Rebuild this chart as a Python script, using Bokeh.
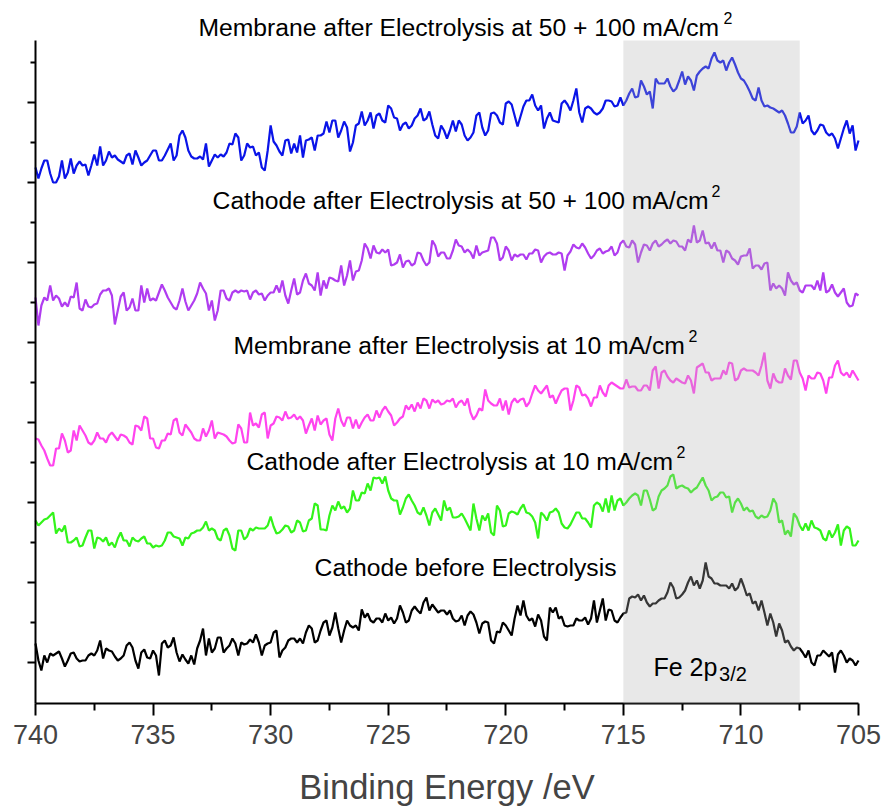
from bokeh.plotting import figure
from bokeh.models import Range1d, FixedTicker, BoxAnnotation, Label, CustomJSTickFormatter
from bokeh.embed import file_html
from bokeh.resources import INLINE
import numpy as np

# Binding energy grid (eV): 0.125 eV steps from 740 to 705.
# Each spectrum is read at the 0.25 eV points (*_a) and at the points in between (*_b).
energy = np.arange(740.0, 704.99, -0.125)

membrane_50_100_a = [633,632,640,618,624,622,642,635,635,625,646,654,640,643,641,637,647,650,635,640,
                     650,640,645,657,645,670,650,642,644,657,640,643,644,657,667,640,657,654,648,630,
                     675,655,645,661,657,665,660,663,665,667,668,680,670,673,658,677,675,688,685,680,
                     695,683,670,678,675,685,680,689,665,675,662,680,680,665,663,685,673,670,688,678,
                     697,696,674,694,700,695,695,682,680,678,700,690,712,678,694,688,688,700,699,695,
                     695,707,703,720,706,692,717,717,714,712,729,724,710,729,734,742,740,740,738,736,
                     722,715,702,713,694,693,690,690,677,668,688,680,670,670,675,665,662,662,680,675,660]
membrane_50_100_b = [622,640,627,618,640,628,627,639,636,635,635,635,649,645,639,645,636,643,638,645,
                     650,640,651,640,665,663,644,642,641,634,646,646,648,656,663,645,653,645,633,650,
                     659,649,660,647,648,643,661,650,665,679,680,663,679,649,675,689,680,672,687,678,
                     692,682,676,672,682,692,682,676,662,670,670,669,676,660,668,688,665,687,685,676,
                     699,685,684,700,706,690,672,688,679,697,696,700,688,692,692,686,692,700,694,703,
                     700,712,704,714,709,722,717,722,709,720,716,720,725,732,732,748,738,730,743,728,
                     720,709,700,700,695,692,688,685,668,674,677,685,666,676,668,667,652,672,667,650]

cathode_50_100_a = [503,495,500,500,502,498,504,518,490,494,496,506,510,505,490,508,493,490,515,512,
                    502,508,510,498,491,512,490,500,518,507,500,490,510,500,510,510,510,508,506,500,
                    508,515,520,497,522,508,527,515,528,520,523,520,535,525,520,530,557,542,548,551,
                    551,536,546,539,535,548,540,538,555,548,542,550,555,548,548,555,548,550,563,540,
                    554,540,544,546,547,551,538,547,546,548,530,549,553,557,547,545,552,549,554,548,
                    560,553,556,548,555,557,554,559,557,559,554,561,575,560,557,552,550,538,548,540,
                    544,545,532,535,537,510,512,512,528,516,510,515,515,520,528,510,508,508,498,495,505]
cathode_50_100_b = [475,503,515,505,494,494,503,492,501,493,497,510,512,476,504,490,502,490,498,500,
                    500,516,503,493,500,499,495,507,512,490,480,510,502,508,508,509,501,510,507,505,
                    508,508,505,510,506,520,517,510,505,512,522,519,515,540,529,540,552,555,547,548,
                    535,538,533,540,537,547,535,560,544,548,542,561,554,551,542,545,549,563,557,543,
                    550,546,546,541,547,550,544,548,546,547,545,556,552,553,542,550,547,550,545,557,
                    554,560,538,556,550,560,556,561,560,554,550,558,558,570,558,558,550,550,542,536,
                    545,552,535,531,538,517,515,505,520,518,508,515,511,510,508,516,504,512,494,507]

membrane_10_a = [362,355,342,335,352,360,350,360,370,358,360,362,358,368,360,365,358,375,370,382,
                 362,352,360,366,382,365,372,362,360,364,380,368,366,360,358,372,358,375,373,388,
                 375,384,380,382,386,384,367,382,385,380,366,382,380,383,372,372,383,380,390,390,
                 389,375,382,395,396,398,402,392,398,396,400,402,398,395,388,385,390,400,395,402,
                 400,398,398,402,398,415,407,415,405,404,412,390,415,405,402,403,415,404,418,414,
                 412,413,414,410,415,430,412,430,420,422,418,425,407,435,428,420,422,430,438,420,
                 430,430,430,425,448,412,420,418,425,440,428,410,422,428,420,423,435,428,428,430,420]
membrane_10_b = [361,350,335,352,367,348,370,375,365,356,368,362,365,364,366,363,356,374,384,362,
                 353,360,367,380,368,376,368,360,372,370,362,367,364,357,376,358,388,377,386,362,
                 377,383,389,383,381,380,375,370,376,382,360,392,374,383,381,378,386,380,383,394,
                 385,378,384,391,389,392,400,401,400,397,399,393,400,402,381,392,411,397,395,390,
                 386,402,401,394,407,410,411,403,397,410,412,400,413,406,394,403,408,415,416,412,
                 421,414,410,415,410,434,428,424,418,420,417,420,433,437,428,422,422,426,437,422,
                 432,430,428,435,420,427,418,432,421,440,422,425,422,427,407,423,440,425,423,425]

cathode_10_a = [280,278,282,288,272,275,258,263,255,270,252,262,263,258,262,260,254,260,262,257,
                253,254,260,268,263,255,262,268,270,279,272,262,270,265,250,270,264,270,272,272,
                284,267,271,274,270,278,270,282,295,271,285,290,292,288,310,300,307,310,322,317,
                310,300,286,302,300,288,293,275,292,280,290,283,284,282,270,282,285,287,265,290,
                275,289,286,296,287,278,288,280,289,288,273,276,288,282,278,295,296,302,305,300,
                295,302,307,295,310,290,304,312,324,312,315,312,311,318,315,300,304,308,304,298,
                297,293,290,282,283,290,297,280,270,287,275,277,280,272,262,270,268,255,274,255,260]
cathode_10_b = [275,281,285,267,269,258,260,254,263,270,263,259,255,253,268,260,263,259,264,257,
                255,255,268,264,262,263,267,270,273,270,270,260,272,252,270,261,272,273,272,275,
                274,268,275,268,280,269,280,297,271,270,295,299,294,292,300,308,317,323,323,324,
                302,300,293,306,295,286,285,288,286,300,293,283,287,276,297,270,280,268,295,274,
                287,288,292,288,284,262,285,288,292,277,272,282,288,282,273,298,289,288,290,302,
                298,305,305,310,301,292,310,315,326,314,313,308,313,323,310,303,308,303,288,302,
                290,289,284,285,284,302,278,266,264,283,270,270,273,270,260,263,276,270,272,255]

cathode_before_a = [157,130,138,145,149,134,147,142,140,145,145,160,152,149,140,145,158,140,148,143,
                    150,125,160,155,148,146,137,136,160,145,148,163,148,155,157,158,157,158,158,155,
                    158,170,150,160,162,162,168,172,160,178,165,188,158,180,173,170,183,180,182,178,
                    180,177,195,178,190,190,198,190,192,190,186,182,180,175,189,178,177,178,157,168,
                    175,165,195,200,180,174,180,160,188,182,175,175,182,180,176,200,190,180,190,178,
                    187,202,203,200,198,197,200,202,218,202,206,218,215,212,238,222,217,215,212,210,
                    222,205,197,190,188,187,164,170,160,150,152,143,138,145,150,144,128,150,138,140,140]
cathode_before_b = [140,145,147,147,142,140,148,139,140,147,150,142,150,144,142,155,153,132,151,142,
                    145,157,153,163,139,141,145,152,172,162,152,163,152,162,145,156,161,166,145,157,
                    168,143,153,162,158,157,175,158,170,180,173,172,170,175,175,191,187,178,182,187,
                    183,182,188,180,194,187,203,196,188,190,190,179,185,185,186,167,179,160,169,178,
                    170,182,185,185,182,186,164,193,193,184,174,175,180,183,182,178,202,191,180,183,
                    188,204,206,205,194,197,202,208,213,203,210,224,220,220,224,217,215,215,217,213,
                    214,207,199,200,175,178,177,158,154,153,148,150,135,145,147,148,146,145,142,135]

series_a = [membrane_50_100_a, cathode_50_100_a, membrane_10_a, cathode_10_a, cathode_before_a]
series_b = [membrane_50_100_b, cathode_50_100_b, membrane_10_b, cathode_10_b, cathode_before_b]
colors = ["#0a14e8", "#b03cf0", "#ff44ee", "#33f41a", "#000000"]

# Curve annotations: text, left edge (eV), vertical position, superscript "2" position (eV) or None
labels = ["Membrane after Electrolysis at 50 + 100 mA/cm",
          "Cathode after Electrolysis at 50 + 100 mA/cm",
          "Membrane after Electrolysis at 10 mA/cm",
          "Cathode after Electrolysis at 10 mA/cm",
          "Cathode before Electrolysis"]
label_left = [733.07, 732.47, 731.58, 731.03, 728.13]
label_y = [773, 600, 455, 339, 233]
sup_x = [710.74, 711.25, 712.23, 712.74, None]

x_ticks = [740, 735, 730, 725, 720, 715, 710, 705]
x_minor = [737.5, 732.5, 727.5, 722.5, 717.5, 712.5, 707.5]
y_ticks = [138, 218, 298, 378, 458, 538, 618, 698]
y_minor = [178, 258, 338, 418, 498, 578, 658, 738]
x_bounds = (705, 740)
y_bounds = (97, 760)
region = (715, 707.5)

p = figure(width=883, height=807, output_backend="svg", toolbar_location=None,
           x_range=Range1d(741.488, 703.937), y_range=Range1d(-7, 800),
           min_border=0)
p.outline_line_color = None
p.xgrid.visible = False
p.ygrid.visible = False
p.background_fill_color = "white"
p.border_fill_color = "white"

for a, b, c in zip(series_a, series_b, colors):
    ys = np.empty(len(energy))
    ys[0::2] = a
    ys[1::2] = b
    p.line(energy, ys, line_color=c, line_width=2.2)

p.add_layout(BoxAnnotation(left=region[0], right=region[1], bottom=y_bounds[0], top=y_bounds[1],
                           fill_color=(178, 178, 178), fill_alpha=0.3, line_color=None))

for t, xl, y, xs in zip(labels, label_left, label_y, sup_x):
    p.add_layout(Label(x=xl, y=y, text=t, text_align="left", text_baseline="middle",
                       text_font="Liberation Sans", text_font_size="24.7px", text_color="black"))
    if xs is not None:
        p.add_layout(Label(x=xs, y=y + 10, text="2", text_align="left", text_baseline="middle",
                           text_font="Liberation Sans", text_font_size="16px", text_color="black"))

p.add_layout(Label(x=711.0, y=134, text="Fe 2p", text_align="right", text_baseline="alphabetic",
                   text_font="Liberation Sans", text_font_size="25px", text_color="black"))
p.add_layout(Label(x=710.93, y=127, text="3/2", text_align="left", text_baseline="alphabetic",
                   text_font="Liberation Sans", text_font_size="20px", text_color="black"))

xa = p.xaxis[0]
xa.fixed_location = y_bounds[0]
xa.bounds = x_bounds
xa.ticker = FixedTicker(ticks=x_ticks, minor_ticks=x_minor)
xa.axis_label = "Binding Energy /eV"
xa.axis_label_text_font = "Liberation Sans"
xa.axis_label_text_font_size = "34.5px"
xa.axis_label_text_font_style = "normal"
xa.axis_label_standoff = 21
xa.major_label_text_font = "Liberation Sans"
xa.major_label_text_font_size = "27px"
xa.major_label_standoff = 9
xa.major_tick_out = 12
xa.major_tick_in = 0
xa.minor_tick_out = 7
xa.minor_tick_in = 0
xa.axis_line_width = 2
xa.major_tick_line_width = 2
xa.minor_tick_line_width = 2

ya = p.yaxis[0]
ya.fixed_location = x_bounds[1]
ya.bounds = y_bounds
ya.ticker = FixedTicker(ticks=y_ticks, minor_ticks=y_minor)
ya.formatter = CustomJSTickFormatter(code="return ''")
ya.major_tick_out = 8
ya.major_tick_in = 0
ya.minor_tick_out = 5
ya.minor_tick_in = 0
ya.axis_line_width = 2
ya.major_tick_line_width = 2
ya.minor_tick_line_width = 2
ya.major_label_standoff = 0

open("out.html", "w").write(file_html(p, INLINE))
